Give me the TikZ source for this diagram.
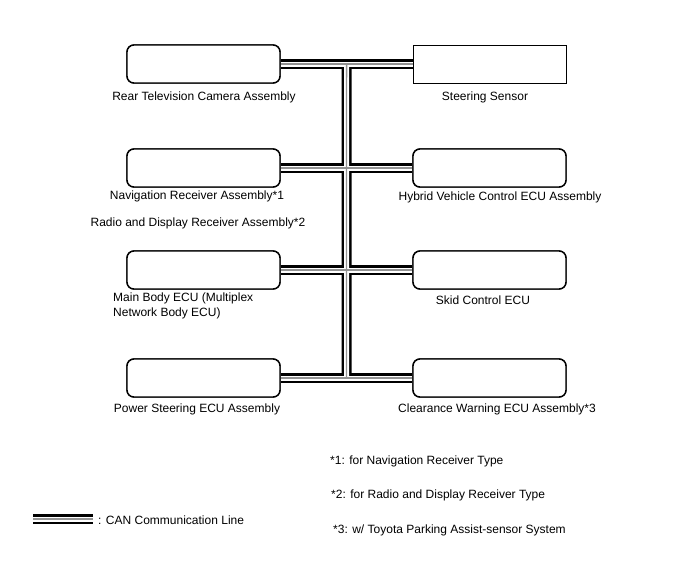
\documentclass[tikz,border=0pt]{standalone}
\usepackage{fontspec}
\setmainfont{Liberation Sans}
\usetikzlibrary{calc}
\begin{document}
\begin{tikzpicture}[x=1pt,y=-1pt,
  ecu/.style={draw=black,line width=1.4pt,fill=white,rounded corners=7pt,minimum width=153pt,minimum height=38pt,inner sep=0pt},
  sensorbox/.style={draw=black,line width=1pt,fill=white,minimum width=153pt,minimum height=38pt,inner sep=0pt},
  lbl/.style={font=\fontsize{12}{15}\selectfont,inner sep=0pt,align=left},
  canA/.style={line width=10pt,black},
  canB/.style={line width=5pt,white},
  canC/.style={line width=1.3pt,gray!85}
]
\useasboundingbox (0,0) rectangle (688,560);
% boxes (positions)
\path (203.5,64) node[ecu] (rtc) {}
      (489.5,64) node[sensorbox] (ss) {}
      (203.5,168) node[ecu] (nav) {}
      (489.5,168) node[ecu] (hv) {}
      (203.5,270) node[ecu] (mb) {}
      (489.5,270) node[ecu] (skid) {}
      (203.5,378) node[ecu] (ps) {}
      (489.5,378) node[ecu] (cw) {};
\coordinate (bustop) at ($(rtc.east)!0.5!(ss.west)$);
\coordinate (busbot) at ($(ps.east)!0.5!(cw.west)$);
\coordinate (lgA) at (33,519);
\coordinate (lgB) at (93,519);
% CAN bus, layered
\foreach \s in {canA,canB,canC}{
  \draw[\s] (rtc.east) -- (ss.west);
  \draw[\s] (nav.east) -- (hv.west);
  \draw[\s] (mb.east) -- (skid.west);
  \draw[\s] (ps.east) -- (cw.west);
  \draw[\s] (bustop) -- (busbot);
  \draw[\s] (lgA) -- (lgB);
}
% redraw boxes on top
\path (203.5,64) node[ecu] {}
      (489.5,64) node[sensorbox] {}
      (203.5,168) node[ecu] {}
      (489.5,168) node[ecu] {}
      (203.5,270) node[ecu] {}
      (489.5,270) node[ecu] {}
      (203.5,378) node[ecu] {}
      (489.5,378) node[ecu] {};
% labels
\node[lbl] (l1) at (204,97) {Rear Television Camera Assembly};
\node[lbl] (l2) at (485,97) {Steering Sensor};
\node[lbl] (l3) at (197,196) {Navigation Receiver Assembly*1};
\node[lbl] (l4) at (198,223) {Radio and Display Receiver Assembly*2};
\node[lbl] (l5) at (500,197) {Hybrid Vehicle Control ECU Assembly};
\node[lbl,anchor=west] (l6) at (113,305.5) {Main Body ECU (Multiplex\\Network Body ECU)};
\node[lbl] (l7) at (483,300) {Skid Control ECU};
\node[lbl] (l8) at (197,409) {Power Steering ECU Assembly};
\node[lbl] (l9) at (497,409) {Clearance Warning ECU Assembly*3};
\node[lbl,anchor=west] (f1) at (330,461) {*1: for Navigation Receiver Type};
\node[lbl,anchor=west] (f2) at (331,495) {*2: for Radio and Display Receiver Type};
\node[lbl,anchor=west] (f3) at (333,530) {*3: w/ Toyota Parking Assist-sensor System};
\node[lbl,anchor=west] (lg) at (98,520) {: CAN Communication Line};
\end{tikzpicture}
\end{document}
